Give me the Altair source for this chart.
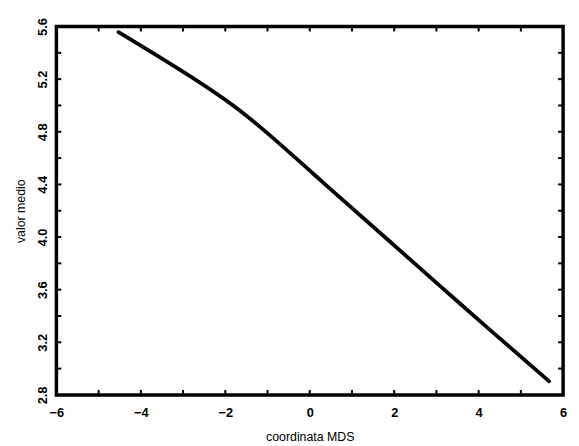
import altair as alt
import pandas as pd

# curve
x_vals = [-4.53, -3.08, -1.53, 0.09, 1.77, 3.09, 4.24, 5.67]
y_vals = [5.557, 5.272, 4.93, 4.479, 4.002, 3.627, 3.302, 2.903]

x_ticks = [-6, -4, -2, 0, 2, 4, 6]
y_ticks = [2.8, 3.2, 3.6, 4.0, 4.4, 4.8, 5.2, 5.6]
x_minor = [-5, -3, -1, 1, 3, 5]
y_minor = [3.0, 3.4, 3.8, 4.2, 4.6, 5.0, 5.4]

W, H = 513, 373

line_df = pd.DataFrame({"x": x_vals, "y": y_vals})
xt_df = pd.DataFrame({"x": x_ticks[1:-1] + x_minor})
yt_df = pd.DataFrame({"y": y_ticks[1:-1] + y_minor})

xs = alt.Scale(domain=[-6, 6], nice=False, zero=False)
ys = alt.Scale(domain=[2.8, 5.6], nice=False, zero=False)

FONT = "Liberation Sans"

xaxis = alt.Axis(
    values=x_ticks, format="d", title="coordinata MDS", ticks=False, tickSize=0,
    domain=False, grid=False, labelFont=FONT, labelFontSize=13,
    labelFontWeight="bold", labelColor="black", labelPadding=12,
    titleFont=FONT, titleFontSize=12.5, titleFontWeight="normal",
    titleColor="black", titlePadding=11, labelFlush=False)
yaxis = alt.Axis(
    values=y_ticks, format=".1f", title="valor medio", ticks=False, tickSize=0,
    domain=False, grid=False, labelFont=FONT, labelFontSize=13,
    labelFontWeight="bold", labelColor="black", labelAngle=270,
    labelAlign="center", labelBaseline="middle", labelPadding=14,
    titleFont=FONT, titleFontSize=12.5, titleFontWeight="normal",
    titleColor="black", titlePadding=9, labelFlush=False)

line = alt.Chart(line_df).mark_line(
    color="black", strokeWidth=3.8, interpolate="natural", strokeCap="round"
).encode(
    x=alt.X("x:Q", scale=xs, axis=xaxis),
    y=alt.Y("y:Q", scale=ys, axis=yaxis),
)

tl = 5
top_t = alt.Chart(xt_df).mark_rule(color="black", strokeWidth=2).encode(
    x=alt.X("x:Q", scale=xs, axis=xaxis), y=alt.value(0), y2=alt.value(tl))
bot_t = alt.Chart(xt_df).mark_rule(color="black", strokeWidth=2).encode(
    x=alt.X("x:Q", scale=xs, axis=xaxis), y=alt.value(H), y2=alt.value(H - tl))
left_t = alt.Chart(yt_df).mark_rule(color="black", strokeWidth=2).encode(
    y=alt.Y("y:Q", scale=ys, axis=yaxis), x=alt.value(0), x2=alt.value(tl))
right_t = alt.Chart(yt_df).mark_rule(color="black", strokeWidth=2).encode(
    y=alt.Y("y:Q", scale=ys, axis=yaxis), x=alt.value(W), x2=alt.value(W - tl))

chart = alt.layer(line, top_t, bot_t, left_t, right_t).properties(
    width=W, height=H,
    padding={"left": 49, "top": 16, "right": 8, "bottom": 52},
    autosize=alt.AutoSizeParams(type="none"),
).configure(background="white").configure_view(stroke="black", strokeWidth=3.5)

chart.save("out.html", embed_options={"renderer": "svg", "actions": False})
